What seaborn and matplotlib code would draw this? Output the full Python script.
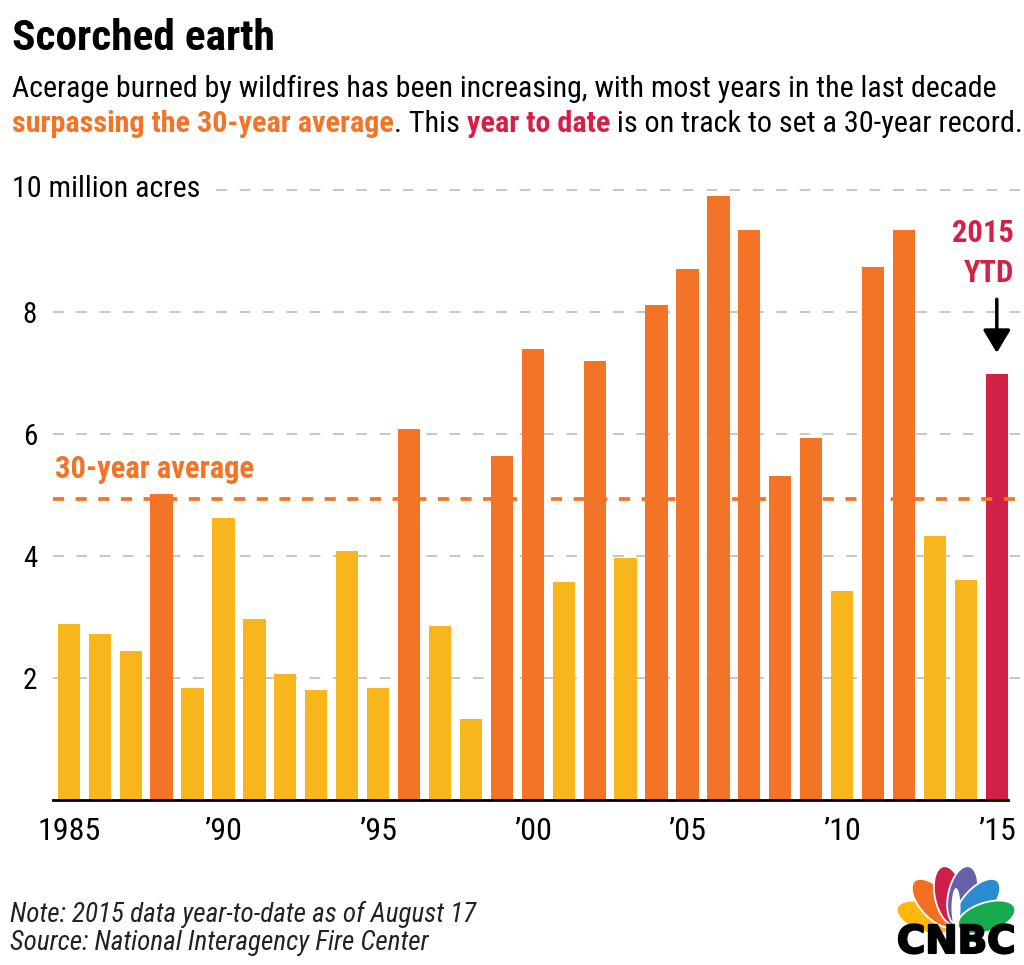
import matplotlib
matplotlib.use("Agg")
import matplotlib.pyplot as plt
import matplotlib.patheffects as pe
from matplotlib import font_manager
from matplotlib.patches import Ellipse
import numpy as np
import pandas as pd
import seaborn as sns

# data (million acres burned)
YEARS = list(range(1985, 2016))
ACRES = [2.89, 2.72, 2.45, 5.02, 1.83, 4.62, 2.96, 2.07, 1.80, 4.08,
         1.84, 6.08, 2.86, 1.33, 5.64, 7.39, 3.57, 7.20, 3.97, 8.11,
         8.70, 9.90, 9.34, 5.31, 5.93, 3.43, 8.73, 9.34, 4.33, 3.61,
         6.98]
STATUS = ['below', 'below', 'below', 'above', 'below', 'below', 'below', 'below', 'below', 'below',
          'below', 'above', 'below', 'below', 'above', 'above', 'below', 'above', 'below', 'above',
          'above', 'above', 'above', 'above', 'above', 'below', 'above', 'above', 'below', 'below',
          'ytd']
AVERAGE = 4.93
XTICKS = [1985, 1990, 1995, 2000, 2005, 2010, 2015]
XTICKLABELS = ['1985', '\u201990', '\u201995', '\u201900', '\u201905', '\u201910', '\u201915']
YTICKS = [2, 4, 6, 8, 10]
YTICKLABELS = ['2', '4', '6', '8', '']

YELLOW = '#F9B61C'
ORANGE = '#F37427'
RED = '#D32046'
PALETTE = {'below': YELLOW, 'above': ORANGE, 'ytd': RED}
GRID = '#c8c8c8'

W, H = 1024, 965

names = {f.name for f in font_manager.fontManager.ttflist}
NARROW = 'DejaVu Sans'
for cand in ['Liberation Sans Narrow', 'Roboto Condensed', 'Open Sans Condensed', 'Noto Sans']:
    if cand in names:
        NARROW = cand
        break

sns.set_style('white')
plt.rcParams['font.family'] = [NARROW, 'DejaVu Sans']
plt.rcParams['lines.scale_dashes'] = False
plt.rcParams['text.color'] = 'black'
plt.rcParams['xtick.color'] = 'black'
plt.rcParams['ytick.color'] = 'black'

fig = plt.figure(figsize=(W / 100, H / 100), dpi=100)
renderer = fig.canvas.get_renderer()


def px(x, y):
    return x / W, 1 - y / H


def fit(t, width):
    bb = t.get_window_extent(renderer)
    t.set_fontsize(t.get_fontsize() * width / bb.width)
    return t


# axes: baseline at y=800 px, x from 53 to 1020 px
ax = fig.add_axes([53 / W, (H - 800) / H, (1020 - 53) / W, 628.3 / H])

df = pd.DataFrame({'year': YEARS, 'acres': ACRES, 'status': STATUS})
sns.barplot(data=df, x='year', y='acres', hue='status', palette=PALETTE,
            dodge=False, width=0.72, saturation=1, linewidth=0,
            legend=False, ax=ax)

ax.set_xlim(-0.511, 30.75)
ax.set_ylim(0, 10.3)
ax.set_axisbelow(True)
ax.grid(axis='y', color=GRID, linewidth=1.5, linestyle=(0, (7.7, 9.1)))
ax.grid(axis='x', visible=False)

ax.set_xticks([YEARS.index(y) for y in XTICKS])
ax.set_xticklabels(XTICKLABELS, fontsize=23)
ax.set_yticks(YTICKS)
ax.set_yticklabels(YTICKLABELS, fontsize=21)
ax.tick_params(axis='y', length=0, pad=11.5)
ax.tick_params(axis='x', length=0, pad=12)
ax.set_xlabel('')
ax.set_ylabel('')
for side in ['top', 'right', 'left']:
    ax.spines[side].set_visible(False)
ax.spines['bottom'].set_color('black')
ax.spines['bottom'].set_linewidth(2)
ax.spines['bottom'].set_bounds(-0.511, 30.36)

# 30-year average
ax.axhline(AVERAGE, color=ORANGE, linewidth=2.7, linestyle=(0, (8, 8.3)), zorder=5)
avg = ax.text(-0.45, AVERAGE + 0.35, '30-year average', color=ORANGE,
              fontweight='bold', fontsize=22, ha='left', va='baseline')
fit(avg, 199)

# y axis unit label
lab = fig.text(*px(12, 197), '10 million acres', fontsize=21, ha='left', va='baseline',
               bbox=dict(facecolor='white', edgecolor='none', pad=4))
fit(lab, 188)

# 2015 YTD callout
ax.annotate('', xy=(30, 7.33), xytext=(30, 8.21),
            arrowprops=dict(arrowstyle='-|>,head_length=0.7,head_width=0.42',
                            mutation_scale=20, lw=2.5, color='black',
                            shrinkA=0, shrinkB=0))
t1 = fig.text(*px(1014, 242), '2015', color=RED, fontweight='bold', fontsize=25,
              ha='right', va='baseline')
fit(t1, 62)
t2 = fig.text(*px(1014, 282), 'YTD', color=RED, fontweight='bold', fontsize=25,
              ha='right', va='baseline')
t2.set_fontsize(t1.get_fontsize())

# title and subtitle
title = fig.text(*px(12, 50), 'Scorched earth', fontweight='bold', fontsize=34,
                 ha='left', va='baseline')
fit(title, 263)

line1 = fig.text(*px(12, 97), 'Acerage burned by wildfires has been increasing, with most years in the last decade',
                 fontsize=20, ha='left', va='baseline')
fit(line1, 983)
sub_size = line1.get_fontsize()

parts = [('surpassing the 30-year average', ORANGE, 'bold'),
         ('. This ', 'black', 'normal'),
         ('year to date', RED, 'bold'),
         (' is on track to set a 30-year record.', 'black', 'normal')]
texts = []
x = 12
for s, c, w in parts:
    t = fig.text(*px(x, 132), s, color=c, fontweight=w, fontsize=sub_size,
                 ha='left', va='baseline')
    x += t.get_window_extent(renderer).width
    texts.append(t)
# squeeze line 2 to the reference width
scale = (1022 - 12) / (x - 12)
x = 12
for t in texts:
    t.set_fontsize(sub_size * scale)
    t.set_position(px(x, 132))
    x += t.get_window_extent(renderer).width

# footnotes
n1 = fig.text(*px(10, 922), 'Note: 2015 data year-to-date as of August 17', fontstyle='italic',
              fontsize=15, ha='left', va='baseline', color='#222222')
fit(n1, 467)
n2 = fig.text(*px(10, 950), 'Source: National Interagency Fire Center', fontstyle='italic',
              fontsize=n1.get_fontsize(), ha='left', va='baseline', color='#222222')

# CNBC peacock logo
lax = fig.add_axes([894 / W, (H - 932) / H, 124 / W, 70 / H])
lax.set_xlim(-62, 62)
lax.set_ylim(-2, 68)
lax.axis('off')
feathers = [(162, '#FCB711'), (132, '#F37021'), (102, '#CC1F4A'),
            (78, '#6460AA'), (48, '#2A8BD0'), (18, '#18AA4E')]
for ang, col in feathers:
    r = np.deg2rad(ang)
    cx, cy = 32 * np.cos(r), 32 * np.sin(r) + 3
    lax.add_patch(Ellipse((cx, cy), 60, 29, angle=ang, facecolor=col,
                          edgecolor='white', linewidth=1.3, clip_on=False))
lax.add_patch(Ellipse((0, 22), 9, 40, facecolor='white', edgecolor='none', clip_on=False))

logo = fig.text(*px(956, 953), 'CNBC', fontweight='bold', fontsize=22,
                family='DejaVu Sans', ha='center', va='baseline', color='black',
                path_effects=[pe.withStroke(linewidth=1.5, foreground='black')])
fit(logo, 118)

fig.savefig('out.png', dpi=100, facecolor='white')
